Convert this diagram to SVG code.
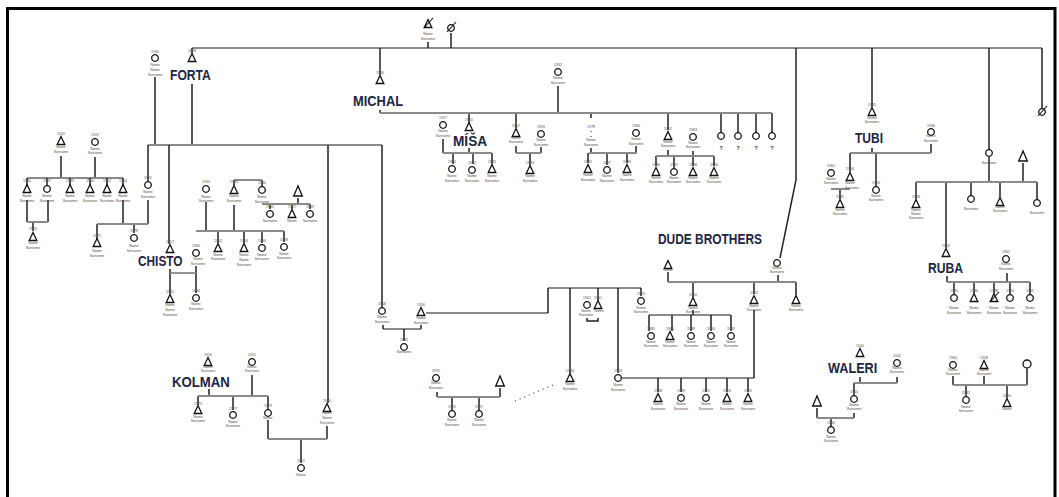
<svg xmlns="http://www.w3.org/2000/svg" xmlns:xlink="http://www.w3.org/1999/xlink" width="1059" height="497" viewBox="0 0 1059 497">
<style>
.h{fill:none;stroke:#8a8a8a;stroke-width:1.8}
.v{fill:none;stroke:#222;stroke-width:1.5}
.d{fill:none;stroke:#444;stroke-width:1.2;stroke-dasharray:1 4}
.t{font-family:"Liberation Sans",Arial,sans-serif;font-size:3.6px;fill:#5a4a3a;text-anchor:middle}
.q{font-family:"Liberation Sans",Arial,sans-serif;font-size:5px;font-weight:bold;fill:#222;text-anchor:middle}
.big{font-family:"Liberation Sans",Arial,sans-serif;font-weight:bold;font-size:15px;fill:#1c2541}
.sym{fill:#fff;stroke:#111;stroke-width:1.3}
</style>
<defs>
<g id="m"><path class="sym" d="M0,-4.5L-3.8,3.5H3.8Z"/></g>
<g id="M"><path class="sym" d="M0,-6L-4.3,4H4.3Z"/></g>
<g id="f"><circle class="sym" r="3.3"/></g>
<g id="F"><circle class="sym" r="4"/></g>
<g id="mx"><path class="sym" d="M0,-4.5L-3.8,3.5H3.8Z"/><path d="M-4,4L5,-6" stroke="#111" stroke-width="1.1"/></g>
<g id="fx"><circle class="sym" r="3.3"/><path d="M-4,4L5,-6" stroke="#111" stroke-width="1.1"/></g>
</defs>
<rect width="1059" height="497" fill="#fff"/>
<path d="M7.5,497V8.5H1055V497" fill="none" stroke="#000" stroke-width="3"/>

<g id="connectors">
<path class="h" d="M192,48H1042"/>
<path class="v" d="M428,42V48M451,33V48M192,48V53M380,48V75M872,48V107M989,48V149M1042,48V108"/>
<path class="v" d="M796,48V180L780,258"/>
<path class="v" d="M155,77V145M192,84V145"/>
<path class="h" d="M148,145H382"/>
<path class="v" d="M148,145V181M169,145V244M328,145V403M382,145V307"/>
<path class="v" d="M61,156V178M95,157V178"/>
<path class="h" d="M27,178H123"/>
<path class="v" d="M27,178V185M47,178V185M70,178V185M90,178V185M107,178V185M123,178V185"/>
<path class="v" d="M27,200V222M48,200V222M33,222V231M123,200V224M148,200V224M97,224V239M134,224V233"/>
<path class="h" d="M27,222H48M97,224H148"/>
<path class="v" d="M170,269V294M196,266V293"/>
<path class="h" d="M170,273H196"/>
<path class="v" d="M206,202V231M234,205V231M218,231V243M244,231V243M262,231V243M284,231V242M234,180V185M262,180V186"/>
<path class="h" d="M196,231H284M234,180H262"/>
<path class="v" d="M298,198V204M270,204V209M292,204V209M310,204V209"/>
<path class="h" d="M262,204H310"/>
<path class="h" d="M383,329H421"/>
<path class="v" d="M383,325V329M421,325V329M404,329V341"/>
<path class="h" d="M426,313H548M548,288H641"/>
<path class="v" d="M548,288V313M570,288V373M598,288V300M618,288V373M641,288V296M587,318V321H598V318"/>
<path class="h" d="M622,378H754"/>
<path class="v" d="M754,310V378M658,378V392M681,378V392M706,378V392M727,378V392M748,378V392"/>
<path class="v" d="M668,272V282M778,275V282M693,282V297M754,282V294M796,282V295"/>
<path class="h" d="M668,282H796M649,315H731"/>
<path class="v" d="M693,310V315M649,315V331M672,315V331M691,315V331M711,315V331M731,315V331"/>
<path class="v" d="M380,110V113M558,86V113M469,113V122M516,113V128M591,113V118M668,113V130M721,113V132M738,113V132M756,113V132M772,113V132"/>
<path class="h" d="M380,113H772"/>
<path class="d" d="M591,131V138"/>
<path class="v" d="M443,139V153M469,148V153M453,153V164M473,153V164M492,153V164"/>
<path class="v" d="M516,146V153M541,147V153M530,153V165"/>
<path class="v" d="M591,148V153M636,146V153M588,153V163M607,153V165M627,153V163"/>
<path class="v" d="M668,150V156M693,151V156M656,156V166M674,156V168M693,156V166M714,156V166"/>
<path class="h" d="M443,153H492M516,153H541M589,153H637M656,156H714"/>
<path class="v" d="M872,148V153M931,144V153M850,153V172M876,153V186M840,189V199"/>
<path class="h" d="M850,153H931M831,189H850"/>
<path class="v" d="M989,157V182M1023,163V182M916,182V199M946,182V248M971,182V195M1000,182V197M1037,182V199"/>
<path class="h" d="M916,182H1037"/>
<path class="v" d="M947,276V282M1007,273V282M954,282V294M974,282V293M994,282V293M1010,282V294M1030,282V294"/>
<path class="h" d="M947,282H1030"/>
<path class="v" d="M860,377V383M897,377V383M854,383V395M854,413V418M817,408V418M831,418V426"/>
<path class="h" d="M854,383H897M817,418H854"/>
<path class="v" d="M953,376V385M984,376V385M1027,369V385M966,385V396M1007,385V398"/>
<path class="h" d="M953,385H1027"/>
<path class="v" d="M209,389V396M252,375V396M198,396V405M233,396V410M268,396V409M268,420V439M327,426V439M301,439V463"/>
<path class="h" d="M198,396H268M268,439H327"/>
<path class="v" d="M500,388V397M437,392V397M452,397V410M479,397V410"/>
<path class="h" d="M437,397H500"/>
<path class="d" d="M515,401L553,385"/>
</g>

<g id="n_top_father"><use href="#mx" x="428" y="24"/><text class="t" x="428" y="35">Name</text><text class="t" x="428" y="40">Surname</text></g>
<g id="n_top_mother"><use href="#fx" x="451" y="28"/></g>

<g id="n_forta"><use href="#m" x="192" y="58"/><text class="t" x="192" y="52">1928</text><text class="big" transform="translate(170 80) scale(0.81 1)">FORTA</text></g>
<g id="n_forta_w"><use href="#f" x="155" y="58"/><text class="t" x="155" y="53">1930</text><text class="t" x="155" y="66">Name</text><text class="t" x="155" y="71">Name</text><text class="t" x="155" y="76">Surname</text></g>

<g id="n_l_p1"><use href="#m" x="61" y="141"/><text class="t" x="61" y="135">1920</text><text class="t" x="61" y="148">Name</text><text class="t" x="61" y="153">Surname</text></g>
<g id="n_l_p2"><use href="#f" x="95" y="142"/><text class="t" x="95" y="136">1922</text><text class="t" x="95" y="150">Name</text><text class="t" x="95" y="154">Surname</text></g>
<g id="n_l_c1"><use href="#m" x="27" y="189"/><text class="t" x="27" y="182">1945</text><text class="t" x="27" y="197">Name</text><text class="t" x="27" y="202">Surname</text></g>
<g id="n_l_c2"><use href="#f" x="47" y="189"/><text class="t" x="47" y="182">1947</text><text class="t" x="47" y="197">Name</text><text class="t" x="47" y="202">Surname</text></g>
<g id="n_l_c3"><use href="#m" x="70" y="189"/><text class="t" x="70" y="182">1949</text><text class="t" x="70" y="197">Name</text><text class="t" x="70" y="202">Surname</text></g>
<g id="n_l_c4"><use href="#m" x="90" y="189"/><text class="t" x="90" y="182">1950</text><text class="t" x="90" y="197">Name</text><text class="t" x="90" y="202">Surname</text></g>
<g id="n_l_c5"><use href="#m" x="107" y="189"/><text class="t" x="107" y="182">1952</text><text class="t" x="107" y="197">Name</text><text class="t" x="107" y="202">Surname</text></g>
<g id="n_l_c6"><use href="#m" x="123" y="189"/><text class="t" x="123" y="182">1954</text><text class="t" x="123" y="197">Name</text><text class="t" x="123" y="202">Surname</text></g>
<g id="n_l_gc1"><use href="#m" x="33" y="237"/><text class="t" x="33" y="230">1970</text><text class="t" x="33" y="244">Name</text><text class="t" x="33" y="249">Surname</text></g>
<g id="n_forta_d"><use href="#f" x="148" y="185"/><text class="t" x="148" y="179">1955</text><text class="t" x="148" y="193">Name</text><text class="t" x="148" y="198">Surname</text></g>
<g id="n_l_gc2"><use href="#m" x="97" y="243"/><text class="t" x="97" y="237">1975</text><text class="t" x="97" y="252">Name</text><text class="t" x="97" y="257">Surname</text></g>
<g id="n_l_gc3"><use href="#f" x="134" y="238"/><text class="t" x="134" y="232">1978</text><text class="t" x="134" y="247">Name</text><text class="t" x="134" y="252">Surname</text></g>

<g id="n_chisto"><use href="#m" x="170" y="249"/><text class="t" x="170" y="243">1957</text><text class="big" transform="translate(138 266) scale(0.79 1)">CHISTO</text></g>
<g id="n_chisto_w"><use href="#f" x="196" y="253"/><text class="t" x="196" y="247">1960</text><text class="t" x="198" y="260">Name</text><text class="t" x="198" y="264.5">Surname</text></g>
<g id="n_chisto_c1"><use href="#m" x="170" y="299"/><text class="t" x="170" y="293">1981</text><text class="t" x="170" y="306">Name</text><text class="t" x="170" y="311">Name</text><text class="t" x="170" y="316">Surname</text></g>
<g id="n_chisto_c2"><use href="#f" x="196" y="298"/><text class="t" x="196" y="292">1984</text><text class="t" x="196" y="305">Name</text><text class="t" x="196" y="310">Surname</text></g>
<g id="n_cw_mother"><use href="#f" x="206" y="189"/><text class="t" x="206" y="183">1935</text><text class="t" x="206" y="198">Name</text><text class="t" x="206" y="202">Surname</text></g>
<g id="n_cw_father"><use href="#m" x="234" y="190"/><text class="t" x="234" y="183">1933</text><text class="t" x="234" y="197">Name</text><text class="t" x="234" y="202">Surname</text></g>
<g id="n_cw_w2"><use href="#f" x="262" y="190"/><text class="t" x="262" y="184">1940</text><text class="t" x="262" y="198">Name</text><text class="t" x="262" y="202.5">Surname</text></g>
<g id="n_cw_m2"><use href="#M" x="298" y="192"/></g>
<g id="n_cw_c1"><use href="#m" x="218" y="248"/><text class="t" x="218" y="242">1962</text><text class="t" x="218" y="256">Name</text><text class="t" x="218" y="260">Surname</text></g>
<g id="n_cw_c2"><use href="#m" x="244" y="248"/><text class="t" x="244" y="242">1964</text><text class="t" x="244" y="256">Name</text><text class="t" x="244" y="261">Name</text><text class="t" x="244" y="266">Surname</text></g>
<g id="n_cw_c3"><use href="#f" x="262" y="248"/><text class="t" x="262" y="242">1966</text><text class="t" x="262" y="256">Name</text><text class="t" x="262" y="260">Surname</text></g>
<g id="n_cw_c4"><use href="#f" x="284" y="247"/><text class="t" x="284" y="241">1968</text><text class="t" x="284" y="255">Name</text><text class="t" x="284" y="259">Surname</text></g>
<g id="n_cw_c5"><use href="#f" x="270" y="214"/><text class="t" x="270" y="208">1965</text><text class="t" x="270" y="222">Surname</text></g>
<g id="n_cw_c6"><use href="#m" x="292" y="214"/><text class="t" x="292" y="208">1967</text><text class="t" x="292" y="222">Name</text></g>
<g id="n_cw_c7"><use href="#f" x="310" y="214"/><text class="t" x="310" y="208">1969</text><text class="t" x="310" y="222">Surname</text></g>

<g id="n_kolman"><use href="#m" x="208" y="362"/><text class="t" x="208" y="356">1950</text><text class="t" x="208" y="368">Name</text><text class="t" x="208" y="372">Surname</text><text class="big" transform="translate(172 387) scale(0.88 1)">KOLMAN</text></g>
<g id="n_kolman_w"><use href="#f" x="252" y="362"/><text class="t" x="252" y="356">1951</text><text class="t" x="252" y="368">Name</text><text class="t" x="252" y="372">Surname</text></g>
<g id="n_kolman_c1"><use href="#m" x="198" y="410"/><text class="t" x="198" y="405">1975</text><text class="t" x="198" y="418">Name</text><text class="t" x="198" y="422">Surname</text></g>
<g id="n_kolman_c2"><use href="#f" x="233" y="415"/><text class="t" x="233" y="410">1977</text><text class="t" x="233" y="423">Name</text><text class="t" x="233" y="427">Surname</text></g>
<g id="n_kolman_c3"><use href="#f" x="268" y="413"/><text class="t" x="268" y="407">1979</text><text class="t" x="268" y="419">Name</text></g>
<g id="n_forta_s2"><use href="#m" x="327" y="408"/><text class="t" x="327" y="402">1960</text><text class="t" x="327" y="414">Name</text><text class="t" x="327" y="419">Name</text><text class="t" x="327" y="424">Surname</text></g>
<g id="n_kolman_gc"><use href="#f" x="301" y="468"/><text class="t" x="301" y="462">2001</text><text class="t" x="301" y="476">Name</text></g>

<g id="n_forta_d2"><use href="#f" x="382" y="311"/><text class="t" x="382" y="305">1958</text><text class="t" x="382" y="318">Name</text><text class="t" x="382" y="323">Surname</text></g>
<g id="n_fd2_h"><use href="#m" x="421" y="312"/><text class="t" x="421" y="306">1956</text><text class="t" x="421" y="319">Name</text><text class="t" x="421" y="324">Surname</text></g>
<g id="n_fd2_c"><use href="#f" x="404" y="347"/><text class="t" x="404" y="341">1985</text><text class="t" x="404" y="353">Surname</text></g>
<g id="n_s1"><use href="#m" x="570" y="378"/><text class="t" x="570" y="372">1960</text><text class="t" x="570" y="385">Name</text><text class="t" x="570" y="390">Surname</text></g>
<g id="n_s2w"><use href="#f" x="587" y="305"/><text class="t" x="587" y="299">1962</text><text class="t" x="586" y="312">Name</text><text class="t" x="586" y="316">Surname</text></g>
<g id="n_s2"><use href="#m" x="598" y="305"/><text class="t" x="598" y="299">1961</text><text class="t" x="599" y="312">Name</text></g>
<g id="n_s3"><use href="#f" x="618" y="378"/><text class="t" x="618" y="372">1963</text><text class="t" x="618" y="386">Name</text><text class="t" x="618" y="391">Surname</text></g>
<g id="n_s4"><use href="#f" x="641" y="301"/><text class="t" x="641" y="295">1965</text><text class="t" x="641" y="309">Name</text><text class="t" x="641" y="313">Surname</text></g>
<g id="n_bm_w"><use href="#f" x="436" y="378"/><text class="t" x="436" y="372">1970</text><text class="t" x="436" y="384">Name</text><text class="t" x="436" y="389">Surname</text></g>
<g id="n_bm_h"><use href="#M" x="500" y="382"/></g>
<g id="n_bm_c1"><use href="#f" x="452" y="414"/><text class="t" x="452" y="408">1995</text><text class="t" x="452" y="421">Name</text><text class="t" x="452" y="426">Surname</text></g>
<g id="n_bm_c2"><use href="#f" x="479" y="414"/><text class="t" x="479" y="408">1997</text><text class="t" x="479" y="421">Name</text><text class="t" x="479" y="426">Surname</text></g>

<g id="n_michal"><use href="#m" x="380" y="80"/><text class="t" x="380" y="74">1930</text><text class="big" transform="translate(353 106) scale(0.86 1)">MICHAL</text></g>
<g id="n_michal_w"><use href="#f" x="558" y="72"/><text class="t" x="558" y="66">1932</text><text class="t" x="558" y="79">Name</text><text class="t" x="558" y="84">Surname</text></g>
<g id="n_misa"><use href="#m" x="469" y="127"/><text class="t" x="469" y="121">1955</text><text class="big" transform="translate(453 146) scale(0.91 1)">MÍŠA</text></g>
<g id="n_misa_w"><use href="#f" x="443" y="125"/><text class="t" x="443" y="119">1957</text><text class="t" x="443" y="132">Name</text><text class="t" x="443" y="137">Surname</text></g>
<g id="n_misa_c1"><use href="#f" x="452" y="169"/><text class="t" x="452" y="163">1980</text><text class="t" x="452" y="177">Name</text><text class="t" x="452" y="182">Surname</text></g>
<g id="n_misa_c2"><use href="#f" x="472" y="170"/><text class="t" x="472" y="164">1982</text><text class="t" x="472" y="177">Name</text><text class="t" x="472" y="182">Surname</text></g>
<g id="n_misa_c3"><use href="#m" x="492" y="169"/><text class="t" x="492" y="163">1985</text><text class="t" x="492" y="177">Name</text><text class="t" x="492" y="182">Surname</text></g>
<g id="n_m2"><use href="#m" x="516" y="133"/><text class="t" x="516" y="127">1957</text><text class="t" x="516" y="139">Name</text><text class="t" x="516" y="143">Surname</text></g>
<g id="n_m2_w"><use href="#f" x="541" y="134"/><text class="t" x="541" y="128">1959</text><text class="t" x="541" y="141">Name</text><text class="t" x="541" y="146">Surname</text></g>
<g id="n_m2_c"><use href="#m" x="530" y="170"/><text class="t" x="530" y="164">1983</text><text class="t" x="530" y="177">Name</text><text class="t" x="530" y="182">Surname</text></g>
<g id="n_m3"><text class="t" x="591" y="128">1978</text><text class="t" x="591" y="141">Name</text><text class="t" x="591" y="146">Surname</text></g>
<g id="n_m3_w"><use href="#f" x="636" y="133"/><text class="t" x="636" y="127">1960</text><text class="t" x="636" y="140">Name</text><text class="t" x="636" y="145">Surname</text></g>
<g id="n_m3_c1"><use href="#m" x="588" y="169"/><text class="t" x="588" y="163">1985</text><text class="t" x="588" y="176">Name</text><text class="t" x="588" y="181">Surname</text></g>
<g id="n_m3_c2"><use href="#f" x="607" y="170"/><text class="t" x="607" y="164">1987</text><text class="t" x="607" y="177">Name</text><text class="t" x="607" y="182">Surname</text></g>
<g id="n_m3_c3"><use href="#m" x="627" y="169"/><text class="t" x="627" y="163">1989</text><text class="t" x="627" y="176">Name</text><text class="t" x="627" y="181">Surname</text></g>
<g id="n_m4"><use href="#m" x="668" y="136"/><text class="t" x="668" y="130">1962</text><text class="t" x="668" y="143">Name</text><text class="t" x="668" y="147">Surname</text></g>
<g id="n_m4_w"><use href="#f" x="693" y="137"/><text class="t" x="693" y="131">1963</text><text class="t" x="693" y="144">Name</text><text class="t" x="693" y="148">Surname</text></g>
<g id="n_m4_c1"><use href="#m" x="656" y="172"/><text class="t" x="656" y="166">1986</text><text class="t" x="656" y="179">Name</text><text class="t" x="656" y="183">Surname</text></g>
<g id="n_m4_c2"><use href="#f" x="674" y="172"/><text class="t" x="674" y="166">1987</text><text class="t" x="674" y="179">Name</text><text class="t" x="674" y="183">Surname</text></g>
<g id="n_m4_c3"><use href="#m" x="693" y="172"/><text class="t" x="693" y="166">1988</text><text class="t" x="693" y="179">Name</text><text class="t" x="693" y="183">Surname</text></g>
<g id="n_m4_c4"><use href="#m" x="714" y="172"/><text class="t" x="714" y="166">1990</text><text class="t" x="714" y="179">Name</text><text class="t" x="714" y="183">Surname</text></g>
<g id="n_m5"><use href="#f" x="721" y="136"/><text class="q" x="721" y="150">?</text></g>
<g id="n_m6"><use href="#f" x="738" y="136"/><text class="q" x="738" y="150">?</text></g>
<g id="n_m7"><use href="#f" x="756" y="136"/><text class="q" x="756" y="150">?</text></g>
<g id="n_m8"><use href="#f" x="772" y="136"/><text class="q" x="772" y="150">?</text></g>

<g id="n_dude_f"><use href="#m" x="668" y="265"/><text class="t" x="668" y="271">Name</text></g>
<g id="n_dude_m"><use href="#f" x="777" y="263"/><text class="t" x="777" y="269">Name</text><text class="t" x="777" y="273">Surname</text></g>
<text id="lbl_dude" class="big" transform="translate(658 244) scale(0.795 1)">DUDE BROTHERS</text>
<g id="n_dude_b1"><use href="#m" x="693" y="302"/><text class="t" x="693" y="296">1960</text><text class="t" x="693" y="309">Name</text><text class="t" x="693" y="313">Surname</text></g>
<g id="n_dude_b2"><use href="#m" x="754" y="300"/><text class="t" x="754" y="294">1962</text><text class="t" x="754" y="307">Name</text><text class="t" x="754" y="311">Surname</text></g>
<g id="n_dude_b3"><use href="#m" x="796" y="300"/><text class="t" x="796" y="307">Name</text><text class="t" x="796" y="311">Surname</text></g>
<g id="n_db1_c1"><use href="#f" x="651" y="336"/><text class="t" x="651" y="330">1985</text><text class="t" x="651" y="343">Name</text><text class="t" x="651" y="347">Surname</text></g>
<g id="n_db1_c2"><use href="#m" x="670" y="336"/><text class="t" x="670" y="330">1986</text><text class="t" x="670" y="343">Name</text><text class="t" x="670" y="347">Surname</text></g>
<g id="n_db1_c3"><use href="#f" x="691" y="336"/><text class="t" x="691" y="330">1988</text><text class="t" x="691" y="343">Name</text><text class="t" x="691" y="347">Surname</text></g>
<g id="n_db1_c4"><use href="#f" x="711" y="336"/><text class="t" x="711" y="330">1990</text><text class="t" x="711" y="343">Name</text><text class="t" x="711" y="347">Surname</text></g>
<g id="n_db1_c5"><use href="#f" x="731" y="336"/><text class="t" x="731" y="330">1992</text><text class="t" x="731" y="343">Name</text><text class="t" x="731" y="347">Surname</text></g>
<g id="n_db2_c1"><use href="#m" x="658" y="398"/><text class="t" x="658" y="392">1988</text><text class="t" x="658" y="405">Name</text><text class="t" x="658" y="410">Surname</text></g>
<g id="n_db2_c2"><use href="#f" x="681" y="398"/><text class="t" x="681" y="392">1989</text><text class="t" x="681" y="405">Name</text><text class="t" x="681" y="410">Surname</text></g>
<g id="n_db2_c3"><use href="#f" x="706" y="398"/><text class="t" x="706" y="392">1991</text><text class="t" x="706" y="405">Name</text><text class="t" x="706" y="410">Surname</text></g>
<g id="n_db2_c4"><use href="#m" x="727" y="398"/><text class="t" x="727" y="392">1993</text><text class="t" x="727" y="405">Name</text><text class="t" x="727" y="410">Surname</text></g>
<g id="n_db2_c5"><use href="#m" x="748" y="398"/><text class="t" x="748" y="392">1995</text><text class="t" x="748" y="405">Name</text><text class="t" x="748" y="410">Surname</text></g>

<g id="n_tubi"><use href="#m" x="872" y="112"/><text class="t" x="872" y="106">1935</text><text class="t" x="872" y="119">Name</text><text class="t" x="872" y="123">Surname</text><text class="big" transform="translate(855 143) scale(0.8 1)">TUBI</text></g>
<g id="n_tubi_w"><use href="#f" x="931" y="132"/><text class="t" x="931" y="127">1936</text><text class="t" x="931" y="137">Name</text><text class="t" x="931" y="142">Surname</text></g>
<g id="n_tubi_c1"><use href="#m" x="850" y="177"/><text class="t" x="850" y="170">1960</text><text class="t" x="850" y="184">Name</text><text class="t" x="852" y="189">Surname</text></g>
<g id="n_tubi_c1w"><use href="#f" x="831" y="173"/><text class="t" x="831" y="167">1962</text><text class="t" x="831" y="180">Name</text><text class="t" x="831" y="184">Surname</text></g>
<g id="n_tubi_c2"><use href="#f" x="876" y="190"/><text class="t" x="876" y="184">1963</text><text class="t" x="876" y="197">Name</text><text class="t" x="876" y="201">Surname</text></g>
<g id="n_tubi_gc"><use href="#m" x="840" y="204"/><text class="t" x="840" y="198">1985</text><text class="t" x="840" y="211">Name</text><text class="t" x="840" y="215">Surname</text></g>

<g id="n_r_mother"><use href="#f" x="989" y="153"/><text class="t" x="989" y="164">Surname</text></g>
<g id="n_r_father"><use href="#M" x="1023" y="157"/></g>
<g id="n_top_right"><use href="#fx" x="1042" y="112"/></g>
<g id="n_r_c1"><use href="#m" x="916" y="204"/><text class="t" x="916" y="198">1958</text><text class="t" x="916" y="211">Name</text><text class="t" x="916" y="215">Name</text><text class="t" x="916" y="219">Surname</text></g>
<g id="n_r_c3"><use href="#f" x="971" y="199"/><text class="t" x="971" y="210">Surname</text></g>
<g id="n_r_c4"><use href="#m" x="1000" y="202"/><text class="t" x="1000" y="208">Name</text><text class="t" x="1000" y="212">Surname</text></g>
<g id="n_r_c5"><use href="#f" x="1037" y="203"/><text class="t" x="1037" y="214">Surname</text></g>
<g id="n_ruba"><use href="#m" x="946" y="253"/><text class="t" x="946" y="247">1960</text><text class="big" transform="translate(928 273) scale(0.81 1)">RUBA</text></g>
<g id="n_ruba_w"><use href="#f" x="1006" y="259"/><text class="t" x="1006" y="253">1962</text><text class="t" x="1006" y="265">Name</text><text class="t" x="1006" y="270">Surname</text></g>
<g id="n_ruba_c1"><use href="#f" x="954" y="298"/><text class="t" x="954" y="292">1985</text><text class="t" x="954" y="309">Name</text><text class="t" x="954" y="314">Surname</text></g>
<g id="n_ruba_c2"><use href="#m" x="974" y="298"/><text class="t" x="974" y="292">1986</text><text class="t" x="974" y="309">Name</text><text class="t" x="974" y="314">Surname</text></g>
<g id="n_ruba_c3"><use href="#mx" x="994" y="298"/><text class="t" x="994" y="292">1988</text><text class="t" x="994" y="309">Name</text><text class="t" x="994" y="314">Surname</text></g>
<g id="n_ruba_c4"><use href="#f" x="1010" y="298"/><text class="t" x="1010" y="292">1990</text><text class="t" x="1010" y="309">Name</text><text class="t" x="1010" y="314">Surname</text></g>
<g id="n_ruba_c5"><use href="#f" x="1030" y="298"/><text class="t" x="1030" y="292">1992</text><text class="t" x="1030" y="309">Name</text><text class="t" x="1030" y="314">Surname</text></g>

<g id="n_waleri"><use href="#m" x="860" y="353"/><text class="t" x="860" y="347">1940</text><text class="big" transform="translate(828 373) scale(0.845 1)">WALERI</text></g>
<g id="n_waleri_w"><use href="#f" x="897" y="363"/><text class="t" x="897" y="357">1942</text><text class="t" x="897" y="369">Name</text><text class="t" x="897" y="373">Surname</text></g>
<g id="n_waleri_c"><use href="#f" x="854" y="399"/><text class="t" x="854" y="393">1965</text><text class="t" x="854" y="406">Name</text><text class="t" x="854" y="410">Surname</text></g>
<g id="n_waleri_ch"><use href="#M" x="817" y="402"/></g>
<g id="n_waleri_gc"><use href="#f" x="831" y="430"/><text class="t" x="831" y="424">1990</text><text class="t" x="831" y="438">Name</text><text class="t" x="831" y="442">Surname</text></g>

<g id="n_br_1"><use href="#f" x="953" y="365"/><text class="t" x="953" y="359">1960</text><text class="t" x="953" y="371">Name</text><text class="t" x="953" y="375">Surname</text></g>
<g id="n_br_2"><use href="#m" x="984" y="365"/><text class="t" x="984" y="359">1958</text><text class="t" x="984" y="371">Name</text><text class="t" x="984" y="375">Surname</text></g>
<g id="n_br_3"><use href="#F" x="1027" y="364"/></g>
<g id="n_br_c1"><use href="#f" x="966" y="400"/><text class="t" x="966" y="394">1985</text><text class="t" x="966" y="408">Name</text><text class="t" x="966" y="412">Surname</text></g>
<g id="n_br_c2"><use href="#m" x="1007" y="403"/><text class="t" x="1007" y="397">1990</text><text class="t" x="1007" y="410">Name</text></g>
</svg>
